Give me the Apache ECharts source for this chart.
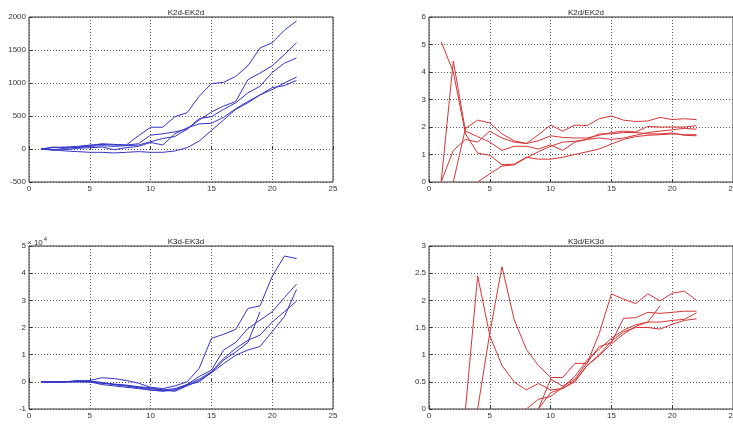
<!DOCTYPE html>
<html>
<head>
<meta charset="utf-8">
<script src="https://cdn.jsdelivr.net/npm/echarts@6/dist/echarts.min.js"></script>
<style>
    html, body { margin: 0; padding: 0; background: #fff; }
    #main { width: 733px; height: 426px; }
</style>
</head>
<body>
<div id="main"></div>
<script>
// x runs 1..22 for every curve, null = not drawn
var titles = ['K2d-EK2d', 'K2d/EK2d', 'K3d-EK3d', 'K3d/EK3d'];

var k2dDiff = [
    [0, 20, 30, 40, 60, 70, 60, 60, 200, 330, 330, 490, 550, 800, 990, 1010, 1100, 1260, 1530, 1610, 1800, 1940],
    [0, -10, 10, 30, 50, 80, 70, 60, 80, 210, 230, 260, 300, 440, 560, 650, 720, 1050, 1150, 1260, 1430, 1610],
    [0, 30, 20, 20, 40, 50, 40, 50, 60, 110, 160, 190, 300, 460, 490, 600, 700, 850, 950, 1160, 1300, 1380],
    [0, -20, -10, 10, 20, 30, -10, 20, 40, 100, 60, 230, 320, 380, 390, 480, 610, 720, 820, 900, 1000, 1090],
    [0, -10, -30, -40, -50, -50, -60, -50, -40, -50, -50, -30, 20, 120, 280, 440, 600, 700, 820, 930, 960, 1040]
];

var k2dRatio = [
    [5.1, 4.0, 1.75, 1.05, 0.97, 0.63, 0.65, 0.9, 0.83, 0.83, 0.9, 1.0, 1.1, 1.2, 1.38, 1.55, 1.65, 1.7, 1.72, 1.75, 1.72, 1.72],
    [0, 4.4, 1.85, 1.65, 1.45, 1.15, 1.3, 1.3, 1.2, 1.35, 1.15, 1.45, 1.55, 1.6, 1.55, 1.6, 1.7, 1.8, 1.85, 1.9, 1.95, 1.92],
    [null, 0, 1.95, 2.25, 2.15, 1.75, 1.5, 1.4, 1.72, 2.07, 1.85, 2.07, 2.05, 2.3, 2.4, 2.25, 2.2, 2.22, 2.35, 2.27, 2.3, 2.27],
    [0, 1.15, 1.55, 1.45, 1.85, 1.6, 1.45, 1.4, 1.5, 1.68, 1.62, 1.6, 1.6, 1.7, 1.8, 1.85, 1.82, 2.02, 2.0, 2.0, 2.0, 2.05],
    [null, null, null, 0, 0.3, 0.58, 0.62, 0.88, 1.1, 1.3, 1.45, 1.48, 1.55, 1.75, 1.75, 1.8, 1.8, 1.75, 1.75, 1.78, 1.7, 1.68]
];

// in units of 10^4
var k3dDiff = [
    [0, 0, 0, 0.02, 0.05, 0.15, 0.12, 0.05, -0.05, -0.2, -0.25, -0.15, 0.0, 0.5, 1.6, 1.75, 1.93, 2.7, 2.8, 3.88, 4.63, 4.54],
    [0, 0, 0, 0, 0, -0.05, -0.1, -0.15, -0.2, -0.25, -0.3, -0.25, -0.1, 0.2, 0.43, 1.17, 1.45, 1.96, 2.27, 2.58, 3.1, 3.6],
    [0, 0, 0, 0.05, 0, -0.05, -0.08, -0.12, -0.18, -0.22, -0.3, -0.35, -0.15, 0.05, 0.33, 0.67, 0.98, 1.17, 1.3, 1.85, 2.4, 3.4],
    [0, 0, 0, 0, 0, -0.1, -0.15, -0.2, -0.25, -0.3, -0.35, -0.3, -0.1, 0.1, 0.37, 0.86, 1.23, 1.53, 1.72, 2.2, 2.58, 2.97],
    [0, 0, 0, 0.03, 0.03, -0.02, -0.1, -0.15, -0.22, -0.3, -0.32, -0.3, -0.12, 0, 0.35, 0.8, 1.1, 1.45, 2.58]
];

var k3dRatio = [
    [null, null, 0, 2.45, 1.35, 0.8, 0.5, 0.35, 0.47, 0.35, 0.38, 0.5, 0.8, 1.0, 1.25, 1.42, 1.5, 1.5, 1.47, 1.56, 1.63, 1.66],
    [null, null, null, 0, 1.4, 2.62, 1.65, 1.1, 0.8, 0.58, 0.58, 0.84, 0.84, 1.39, 2.12, 2.02, 1.94, 2.12, 1.99, 2.13, 2.17, 2.0],
    [null, null, null, null, null, null, null, 0, 0.18, 0.23, 0.4, 0.6, 0.9, 1.1, 1.3, 1.45, 1.55, 1.6, 1.6, 1.63, 1.65, 1.77],
    [null, null, null, null, null, null, null, null, 0, 0.55, 0.42, 0.55, 0.85, 1.15, 1.22, 1.67, 1.68, 1.78, 1.76, 1.78, 1.8, 1.8],
    [null, null, null, null, null, null, null, null, 0, 0.3, 0.38, 0.52, 0.8, 0.98, 1.2, 1.38, 1.52, 1.6, 1.9]
];

var yMin = [-500, 0, -1, 0];
var yMax = [2000, 6, 5, 3];
var yStep = [500, 1, 1, 0.5];
var xTicks = [0, 25, 5];

var panels = [k2dDiff, k2dRatio, k3dDiff, k3dRatio];
var colors = ['#3434c8', '#d83434', '#3434c8', '#d83434'];

// right-hand panels run off the page edge like the original
var grids = [
    {left: 29, width: 304, top: 17, height: 165},
    {left: 429, width: 304, top: 17, height: 165},
    {left: 29, width: 304, top: 246, height: 163},
    {left: 429, width: 304, top: 246, height: 163}
];

var chart = echarts.init(document.getElementById('main'));

var font = 'Liberation Sans';
var grid = [], xAxis = [], yAxis = [], series = [], title = [];

grids.forEach(function (g, i) {
    grid.push({
        left: g.left, width: g.width, top: g.top, height: g.height,
        outerBoundsMode: 'none', containLabel: false,
        show: true, borderColor: '#333', borderWidth: 1, backgroundColor: '#fff'
    });
    title.push({
        text: titles[i],
        left: i % 2 ? 581 : 181, top: g.top - 13,
        textAlign: 'center',
        textStyle: {fontFamily: font, fontSize: 8, fontWeight: 'normal', color: '#222'}
    });
    xAxis.push({
        type: 'value', gridIndex: i,
        min: xTicks[0], max: xTicks[1], interval: xTicks[2],
        axisLine: {show: false},
        axisTick: {inside: true, length: 3, lineStyle: {color: '#333'}},
        axisLabel: {fontFamily: font, fontSize: 8, color: '#333', margin: 3},
        splitLine: {show: true, lineStyle: {type: [1, 2], color: '#555', width: 1}}
    });
    yAxis.push({
        type: 'value', gridIndex: i,
        min: yMin[i], max: yMax[i], interval: yStep[i],
        axisLine: {show: false},
        axisTick: {show: true, inside: true, length: 3, lineStyle: {color: '#333'}},
        axisLabel: {
            fontFamily: font, fontSize: 8, color: '#333', margin: 3,
            formatter: function (v) { return String(v); }
        },
        splitLine: {show: true, lineStyle: {type: [1, 2], color: '#555', width: 1}}
    });
    panels[i].forEach(function (vals) {
        var pts = [];
        vals.forEach(function (v, k) {
            if (v !== null) pts.push([k + 1, v]);
        });
        series.push({
            type: 'line', xAxisIndex: i, yAxisIndex: i,
            data: pts, showSymbol: false, symbol: 'none',
            clip: true,
            lineStyle: {color: colors[i], width: 1},
            silent: true
        });
    });
});

var option = {
    animation: false,
    backgroundColor: '#fff',
    title: title,
    grid: grid,
    xAxis: xAxis,
    yAxis: yAxis,
    series: series,
    graphic: [{
        type: 'text', left: 27, top: 236,
        style: {
            text: '{a|\u00d7 10}{b|4}',
            rich: {
                a: {fontFamily: font, fontSize: 8, fill: '#333', padding: [3, 0, 0, 0]},
                b: {fontFamily: font, fontSize: 6, fill: '#333', padding: [0, 0, 4, 1]}
            }
        }
    }]
};

chart.setOption(option);
window.addEventListener('resize', function () {
    chart.resize();
});
</script>
</body>
</html>
